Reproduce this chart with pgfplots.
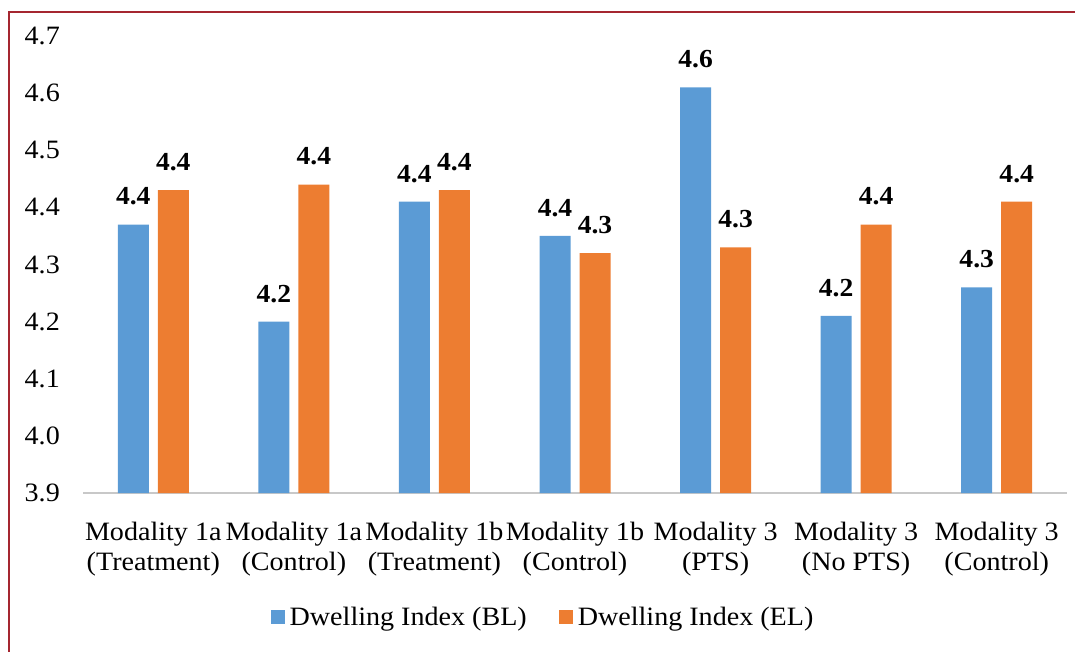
\documentclass[border=0pt]{standalone}
\usepackage{pgfplots}
\pgfplotsset{compat=1.18}
\usepackage{pgfplotstable}
\usepackage{fontspec}
\setmainfont{Liberation Serif}[FakeStretch=1.06]
\definecolor{barblue}{RGB}{91,155,213}
\definecolor{barorange}{RGB}{237,125,49}
\definecolor{framered}{RGB}{165,38,48}
\definecolor{basegray}{RGB}{200,200,200}

\pgfplotstableread{
x  bl    bllab  el    ellab
0  4.37  4.4    4.43  4.4
1  4.20  4.2    4.44  4.4
2  4.41  4.4    4.43  4.4
3  4.35  4.4    4.32  4.3
4  4.61  4.6    4.33  4.3
5  4.21  4.2    4.37  4.4
6  4.26  4.3    4.41  4.4
}\datatable

\begin{document}
\begin{tikzpicture}[x=1pt,y=1pt]
\useasboundingbox (0,0) rectangle (1075,-652);
\draw[framered, line width=2.5pt] (9,-652) -- (9,-12) -- (1075,-12);
\begin{axis}[
  at={(83pt,-493pt)}, anchor=south west,
  scale only axis, width=984pt, height=457pt,
  xmin=-0.5, xmax=6.5, ymin=3.9, ymax=4.7,
  ybar=9pt, bar width=31pt,
  axis x line*=bottom, axis y line*=left,
  x axis line style={draw=basegray, line width=1.2pt, -},
  y axis line style={draw=none},
  xtick=data, xtick style={draw=none}, ytick style={draw=none},
  ytick={3.9,4.0,...,4.7},
  yticklabel style={/pgf/number format/fixed, /pgf/number format/fixed zerofill, /pgf/number format/precision=1, font=\fontsize{26.5}{30}\selectfont, anchor=east, inner sep=0pt, xshift=-23pt},
  /pgf/number format/assume math mode=true,
  xticklabels={{Modality 1a\\(Treatment)},{Modality 1a\\(Control)},{Modality 1b\\(Treatment)},{Modality 1b\\(Control)},{Modality 3\\(PTS)},{Modality 3\\(No PTS)},{Modality 3\\(Control)}},
  xticklabel style={font=\fontsize{26.5}{30}\selectfont, align=center, anchor=north, inner sep=0pt, yshift=-25pt},
  nodes near coords,
  point meta=explicit symbolic,
  every node near coord/.append style={font=\fontsize{26}{30}\selectfont\bfseries, anchor=south, inner sep=0pt, yshift=19pt, black},
  legend columns=2,
  legend style={draw=none, fill=none, at={(0.4675,-0.2714)}, anchor=center, font=\fontsize{26.5}{30}\selectfont,
    /tikz/every odd column/.append style={column sep=3pt},
    /tikz/every even column/.append style={column sep=30pt}},
  legend image code/.code={\fill[#1] (0pt,-7pt) rectangle (14pt,7pt);},
  clip=true,
]
\addplot[fill=barblue, draw=none] table[x=x, y=bl, meta=bllab] {\datatable};
\addplot[fill=barorange, draw=none] table[x=x, y=el, meta=ellab] {\datatable};
\legend{Dwelling Index (BL), Dwelling Index (EL)}
\end{axis}
\end{tikzpicture}
\end{document}
